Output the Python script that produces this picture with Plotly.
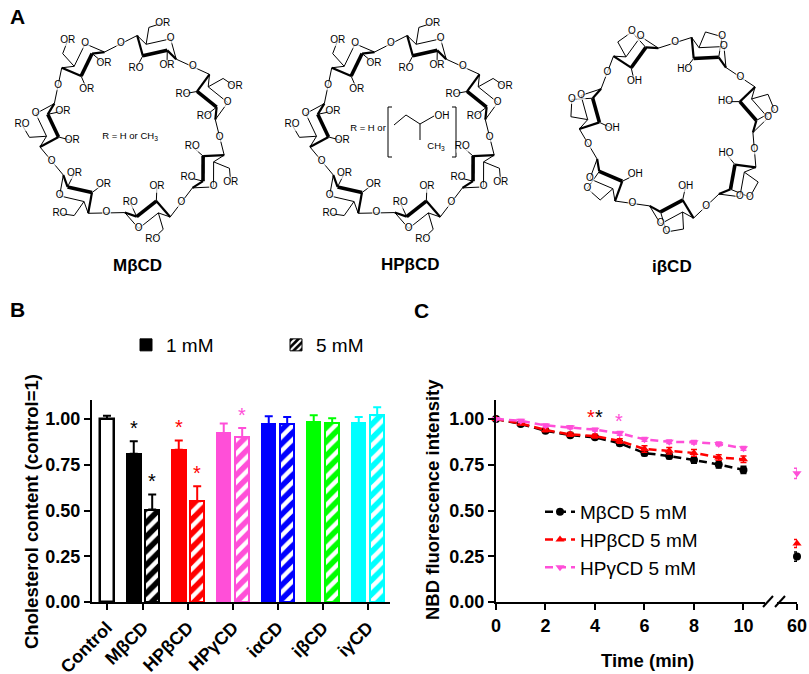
import math
import plotly.graph_objects as go

W, H = 809, 674
FONT = "Arial, 'Liberation Sans', Helvetica, sans-serif"

# ---------------- Panel B data ----------------
b_categories = ["Control", "MβCD", "HPβCD", "HPγCD", "iαCD", "iβCD", "iγCD"]
b_control_value = [1.00]
b_control_err = [0.018]
b_values_1mM = [0.81, 0.832, 0.923, 0.973, 0.982, 0.978]
b_err_1mM = [0.068, 0.051, 0.052, 0.042, 0.038, 0.033]
b_values_5mM = [0.505, 0.55, 0.90, 0.973, 0.978, 1.02]
b_err_5mM = [0.082, 0.082, 0.051, 0.038, 0.026, 0.044]
b_colors = ["#000000", "#FF0000", "#FF4FD8", "#0000FF", "#00FF00", "#00FFFF"]
b_sig_1mM = [True, True, False, False, False, False]
b_sig_5mM = [True, True, True, False, False, False]
b_yticks = [0, 0.25, 0.5, 0.75, 1.0]
b_legend_names = ["1 mM", "5 mM"]

# ---------------- Panel C data ----------------
c_time = [0, 1, 2, 3, 4, 5, 6, 7, 8, 9, 10]
c_time_late = [60]
c_names = ["MβCD 5 mM", "HPβCD 5 mM", "HPγCD 5 mM"]
c_colors = ["#000000", "#FF0000", "#FF4FD8"]
c_symbols = ["circle", "triangle-up", "triangle-down"]
c_mbcd = [1.00, 0.973, 0.936, 0.912, 0.900, 0.867, 0.814, 0.798, 0.776, 0.752, 0.722]
c_mbcd_err = [0.0, 0.008, 0.010, 0.010, 0.010, 0.012, 0.015, 0.015, 0.018, 0.020, 0.020]
c_mbcd_late = [0.248]
c_mbcd_late_err = [0.025]
c_hpbcd = [1.00, 0.975, 0.940, 0.916, 0.907, 0.880, 0.836, 0.827, 0.815, 0.790, 0.780]
c_hpbcd_err = [0.0, 0.008, 0.010, 0.010, 0.010, 0.012, 0.018, 0.018, 0.018, 0.015, 0.018]
c_hpbcd_late = [0.320]
c_hpbcd_late_err = [0.022]
c_hpgcd = [1.00, 0.990, 0.965, 0.955, 0.942, 0.922, 0.889, 0.876, 0.873, 0.864, 0.840]
c_hpgcd_err = [0.0, 0.008, 0.008, 0.008, 0.008, 0.010, 0.010, 0.010, 0.010, 0.010, 0.010]
c_hpgcd_late = [0.703]
c_hpgcd_late_err = [0.028]
c_xticks = [0, 2, 4, 6, 8, 10]
c_sig_x = [3.83, 4.18, 4.99]
c_sig_y = [1.04, 1.04, 1.016]
c_sig_colors = ["#FF0000", "#000000", "#FF4FD8"]

# ---------------- Panel A text ----------------
a_names = ["MβCD", "HPβCD", "iβCD"]


def pxx(x):
    return x / W


def pxy(y):
    return 1 - y / H


fig = go.Figure()
annotations = []

# ================= Panel B =================
ctrl_pos = -0.8
grp_pos = [0, 1, 2, 3, 4, 5]
off = 0.205
bw = 0.30

fig.add_trace(go.Bar(
    x=[ctrl_pos], y=b_control_value, width=bw,
    marker=dict(color="white", line=dict(color="black", width=2.5)),
    error_y=dict(type="data", symmetric=False, array=b_control_err, arrayminus=[0],
                 color="black", thickness=2, width=4),
    showlegend=False, xaxis="x", yaxis="y", cliponaxis=False))

for i, col in enumerate(b_colors):
    fig.add_trace(go.Bar(
        x=[grp_pos[i] - off, grp_pos[i] + off],
        y=[b_values_1mM[i], b_values_5mM[i]], width=bw,
        marker=dict(color=col, line=dict(color=col, width=2),
                    pattern=dict(shape=["", "/"], bgcolor=col, fgcolor="white",
                                 fgopacity=1, size=10, solidity=0.45)),
        error_y=dict(type="data", symmetric=False,
                     array=[b_err_1mM[i], b_err_5mM[i]], arrayminus=[0, 0],
                     color=col, thickness=2, width=4),
        showlegend=False, xaxis="x", yaxis="y", cliponaxis=False))

# significance asterisks (B)
for i in range(len(b_colors)):
    for flag, xpos, top in ((b_sig_1mM[i], grp_pos[i] - off, b_values_1mM[i] + b_err_1mM[i]),
                            (b_sig_5mM[i], grp_pos[i] + off, b_values_5mM[i] + b_err_5mM[i])):
        if flag:
            annotations.append(dict(text="*", x=xpos, y=top + 0.10, xref="x", yref="y",
                                    showarrow=False, xanchor="center", yanchor="middle",
                                    yshift=-5,
                                    font=dict(size=20, family=FONT, color=b_colors[i])))

# legend entries for B
fig.add_trace(go.Bar(x=[None], y=[None], name=b_legend_names[0],
                     marker=dict(color="black", line=dict(color="black", width=1)),
                     legend="legend2", xaxis="x", yaxis="y"))
fig.add_trace(go.Bar(x=[None], y=[None], name=b_legend_names[1],
                     marker=dict(color="black", line=dict(color="black", width=1),
                                 pattern=dict(shape="/", bgcolor="black", fgcolor="white",
                                              fgopacity=1, size=6, solidity=0.45)),
                     legend="legend2", xaxis="x", yaxis="y"))

# ================= Panel C =================
c_series = [
    (c_mbcd, c_mbcd_err, c_mbcd_late, c_mbcd_late_err),
    (c_hpbcd, c_hpbcd_err, c_hpbcd_late, c_hpbcd_late_err),
    (c_hpgcd, c_hpgcd_err, c_hpgcd_late, c_hpgcd_late_err),
]
for k, (vals, errs, late, late_err) in enumerate(c_series):
    col = c_colors[k]
    fig.add_trace(go.Scatter(
        x=c_time, y=vals, mode="lines+markers", name=c_names[k],
        line=dict(color=col, width=2.5, dash="8px,5px"),
        marker=dict(symbol=c_symbols[k], size=8, color=col),
        error_y=dict(type="data", array=errs, color=col, thickness=1.5, width=3),
        xaxis="x3", yaxis="y3", legend="legend", cliponaxis=False))
    fig.add_trace(go.Scatter(
        x=c_time_late, y=late, mode="markers", showlegend=False,
        marker=dict(symbol=c_symbols[k], size=8, color=col),
        error_y=dict(type="data", array=late_err, color=col, thickness=1.5, width=3),
        xaxis="x4", yaxis="y3", cliponaxis=False))

for xs, ys, cs in zip(c_sig_x, c_sig_y, c_sig_colors):
    annotations.append(dict(text="*", x=xs, y=ys, xref="x3", yref="y3",
                            showarrow=False, xanchor="center", yanchor="middle", yshift=-5,
                            font=dict(size=20, family=FONT, color=cs)))

# ================= Panel A (schematic structures) =================
thin = ([], [])
med = ([], [])
bold = ([], [])
labs = ([], [], [], [])  # x, y, text, mask size


def seg(lst, a, b):
    lst[0].extend([a[0], b[0], None])
    lst[1].extend([a[1], b[1], None])


def label(pt, txt, size=9):
    labs[0].append(pt[0]); labs[1].append(pt[1]); labs[2].append(txt); labs[3].append(size)


def sub_label(attach, pt, base):
    dx = pt[0] - attach[0]
    txt = base[::-1] if dx < -3 else base
    label(pt, txt, 12)


def draw_cd(cx, cy, R, start, kind):
    n = 7
    c1s, c4s = [], []
    for i in range(n):
        phi = math.radians(start - i * 360.0 / n)
        P = (cx + R * math.cos(phi), cy - R * math.sin(phi))
        t = (math.sin(phi), math.cos(phi))
        nn = (math.cos(phi), -math.sin(phi))

        def L(u, v):
            return (P[0] + u * t[0] + v * nn[0], P[1] + u * t[1] + v * nn[1])

        C4 = L(-22, 6); C5 = L(-11, 0); O5 = L(11, 12)
        C1 = L(22, -6); C2 = L(11, 0); C3 = L(-11, -12)
        seg(thin, C4, C5); seg(thin, C5, O5); seg(thin, O5, C1)
        seg(med, C1, C2); seg(bold, C2, C3); seg(med, C3, C4)
        label(O5, "O")
        if kind == "M":
            C6 = L(-13, 17); O6 = L(-1, 25)
            seg(thin, C5, C6); seg(thin, C6, O6); sub_label(C6, O6, "OR")
            O2 = L(15, -15); seg(thin, C2, O2); sub_label(C2, O2, "OR")
            O3 = L(-14, -26); seg(thin, C3, O3); sub_label(C3, O3, "OR")
        else:
            C6 = L(-12, 17); Ob = L(5, 20)
            seg(thin, C5, C6); seg(thin, C6, Ob); seg(thin, Ob, C2)
            label(Ob, "O")
            O3 = L(-14, -26); seg(thin, C3, O3); sub_label(C3, O3, "OH")
        c1s.append(C1); c4s.append(C4)
    for i in range(n):
        a = c1s[i]; b = c4s[(i + 1) % n]
        m = ((a[0] + b[0]) / 2, (a[1] + b[1]) / 2)
        seg(thin, a, m); seg(thin, m, b)
        label(m, "O")


draw_cd(133, 130, 86, 74, "M")
draw_cd(403, 130, 86, 74, "M")
draw_cd(672, 128, 84, 64, "i")

# hydroxypropyl bracket (HPβCD)
seg(thin, (392, 107), (388, 107)); seg(thin, (388, 107), (388, 157)); seg(thin, (388, 157), (392, 157))
seg(thin, (452, 107), (456, 107)); seg(thin, (456, 107), (456, 157)); seg(thin, (456, 157), (452, 157))
seg(thin, (394, 125), (406, 115)); seg(thin, (406, 115), (420, 124)); seg(thin, (420, 124), (434, 116))
seg(thin, (420, 124), (420, 140))
label((442, 116), "OH", 12)

for lst, w in ((thin, 1), (med, 2.2), (bold, 3.6)):
    fig.add_trace(go.Scatter(x=lst[0], y=lst[1], mode="lines",
                             line=dict(color="black", width=w),
                             showlegend=False, hoverinfo="skip",
                             xaxis="x5", yaxis="y5"))
fig.add_trace(go.Scatter(x=labs[0], y=labs[1], mode="markers+text", text=labs[2],
                         textposition="middle center",
                         textfont=dict(size=10, color="black", family=FONT),
                         marker=dict(symbol="square", size=labs[3], color="white",
                                     line=dict(width=0)),
                         showlegend=False, hoverinfo="skip",
                         xaxis="x5", yaxis="y5", cliponaxis=False))
fig.add_trace(go.Scatter(x=[130, 368, 436], y=[137, 129, 147], mode="text",
                         text=["R = H or CH<sub>3</sub>", "R = H or", "CH<sub>3</sub>"],
                         textfont=dict(size=9.5, color="black", family=FONT),
                         showlegend=False, hoverinfo="skip",
                         xaxis="x5", yaxis="y5", cliponaxis=False))

# ================= Layout =================
ydom = [pxy(602), pxy(400)]
tickfont = dict(size=18, color="black", family=FONT, weight="bold")
axis_common = dict(showline=True, linewidth=2, linecolor="black", ticks="outside",
                   ticklen=6, tickwidth=2, tickcolor="black", showgrid=False,
                   zeroline=False, tickfont=tickfont, fixedrange=True, automargin=False)

for txt, x, y in (("A", 17, 16), ("B", 17, 309), ("C", 422, 310)):
    annotations.append(dict(text=txt, x=pxx(x), y=pxy(y), xref="paper", yref="paper",
                            showarrow=False, xanchor="center", yanchor="middle",
                            font=dict(size=21, family=FONT, color="black", weight="bold")))
for txt, x, y in zip(a_names, (137, 410, 672), (265, 264, 266)):
    annotations.append(dict(text=txt, x=pxx(x), y=pxy(y), xref="paper", yref="paper",
                            showarrow=False, xanchor="center", yanchor="middle",
                            font=dict(size=17, family=FONT, color="black", weight="bold")))
annotations.append(dict(text="Cholesterol content (control=1)", x=pxx(31), y=pxy(512),
                        xref="paper", yref="paper", showarrow=False, textangle=-90,
                        xanchor="center", yanchor="middle",
                        font=dict(size=18.5, family=FONT, color="black", weight="bold")))
annotations.append(dict(text="NBD fluorescence intensity", x=pxx(432), y=pxy(500),
                        xref="paper", yref="paper", showarrow=False, textangle=-90,
                        xanchor="center", yanchor="middle",
                        font=dict(size=18.5, family=FONT, color="black", weight="bold")))
annotations.append(dict(text="Time (min)", x=pxx(647), y=pxy(660),
                        xref="paper", yref="paper", showarrow=False,
                        xanchor="center", yanchor="middle",
                        font=dict(size=18.5, family=FONT, color="black", weight="bold")))

shapes = [
    dict(type="line", xref="paper", yref="paper", x0=pxx(763), y0=pxy(607), x1=pxx(773), y1=pxy(596),
         line=dict(color="black", width=2)),
    dict(type="line", xref="paper", yref="paper", x0=pxx(775), y0=pxy(607), x1=pxx(785), y1=pxy(596),
         line=dict(color="black", width=2)),
]

fig.update_layout(
    width=W, height=H, margin=dict(l=0, r=0, t=0, b=0, autoexpand=False),
    paper_bgcolor="white", plot_bgcolor="rgba(0,0,0,0)",
    barmode="overlay", bargap=0,
    font=dict(family=FONT, color="black"),
    xaxis=dict(domain=[pxx(92), pxx(390)], range=[-1.133, 5.49], anchor="y",
               tickvals=[ctrl_pos] + grp_pos, ticktext=b_categories, tickangle=-45,
               **axis_common),
    yaxis=dict(domain=ydom, range=[0, 1.104], anchor="x", tickvals=b_yticks,
               ticktext=["%.2f" % v for v in b_yticks], **axis_common),
    xaxis3=dict(domain=[pxx(496), pxx(765)], range=[0, 10.87], anchor="y3",
                tickvals=c_xticks, **axis_common),
    yaxis3=dict(domain=ydom, range=[0, 1.104], anchor="x3", tickvals=b_yticks,
                ticktext=["%.2f" % v for v in b_yticks], **axis_common),
    xaxis4=dict(domain=[pxx(777), pxx(797)], range=[59.3, 60], anchor="y3",
                tickvals=c_time_late, **axis_common),
    xaxis5=dict(domain=[0, 1], range=[0, W], anchor="y5", visible=False, fixedrange=True,
                automargin=False),
    yaxis5=dict(domain=[pxy(285), 1], range=[285, 0], anchor="x5", visible=False, fixedrange=True,
                automargin=False),
    legend=dict(x=pxx(540), y=pxy(540), xanchor="left", yanchor="middle",
                bgcolor="rgba(0,0,0,0)", font=dict(size=19, family=FONT, color="black"),
                itemwidth=30, tracegroupgap=0),
    legend2=dict(x=pxx(126), y=pxy(345), xanchor="left", yanchor="middle",
                 orientation="h", bgcolor="rgba(0,0,0,0)",
                 font=dict(size=19, family=FONT, color="black"),
                 entrywidth=105, entrywidthmode="pixels"),
    annotations=annotations, shapes=shapes,
)

fig.write_html("out.html", config={"displayModeBar": False},
               post_script="document.body.style.margin='0';document.body.style.overflow='hidden';")
